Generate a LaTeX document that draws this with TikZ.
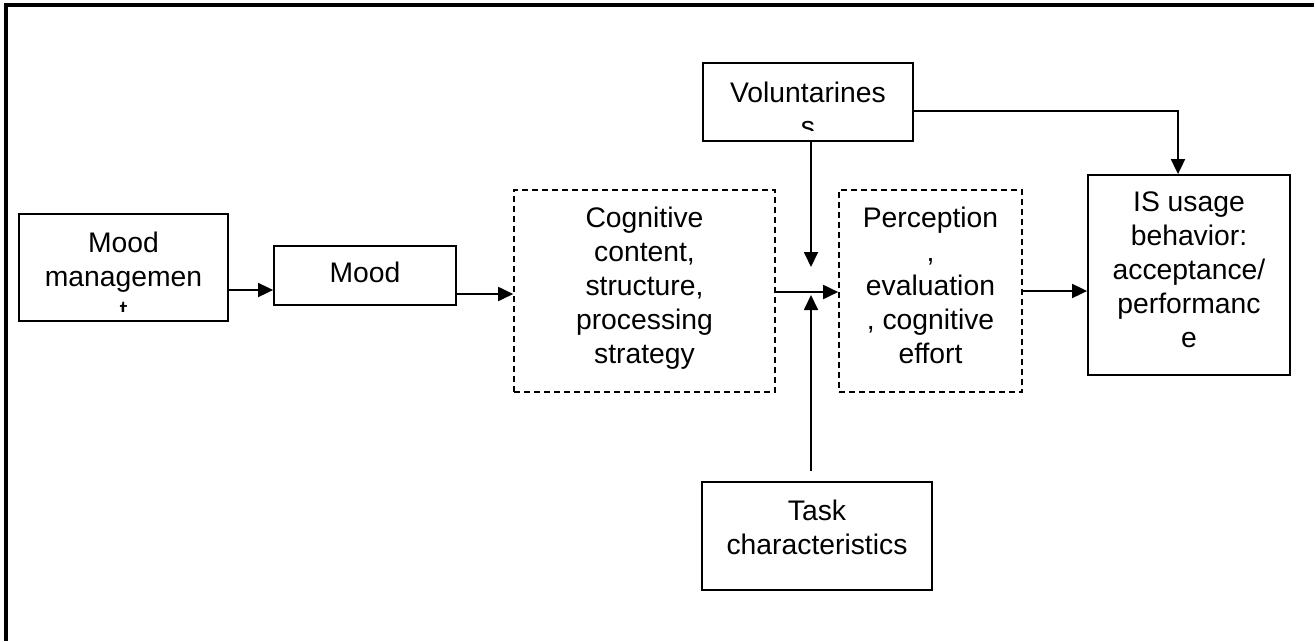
\documentclass[tikz,border=0pt]{standalone}
\usepackage{fontspec}
\setmainfont{Liberation Sans}
\usetikzlibrary{arrows.meta,calc}
\tikzset{
  box/.style={draw, line width=1.8pt, rectangle, inner sep=0pt},
  dbox/.style={box, line width=1.6pt, dash pattern=on 6pt off 4pt},
  txt/.style={anchor=north, align=center, inner sep=0pt, font=\fontsize{28.3}{34}\selectfont},
  arr/.style={line width=1.8pt, -{Triangle[length=15pt,width=14pt]}},
  frame/.style={line width=3.5pt}
}
\begin{document}
\begin{tikzpicture}[x=1pt,y=-1pt]
\useasboundingbox (0,0) rectangle (1315,641);
% frame (top and left only)
\coordinate (fr-a) at (1314,5);
\coordinate (fr-b) at (6,5);
\coordinate (fr-c) at (6,641);
\draw[frame] (fr-a) -- (fr-b) -- (fr-c);

% boxes
\node[box, minimum width=209pt, minimum height=107pt] (mm) at (123.5,267.5) {};
\node[box, minimum width=182pt, minimum height=59pt] (mood) at (365,275.5) {};
\node[dbox, minimum width=261pt, minimum height=202pt] (cog) at (644.5,291) {};
\node[dbox, minimum width=183pt, minimum height=202pt] (perc) at (930.5,291) {};
\node[box, minimum width=202pt, minimum height=200pt] (is) at (1189,275) {};
\node[box, minimum width=210pt, minimum height=78pt] (vol) at (808,102) {};
\node[box, minimum width=230pt, minimum height=108pt] (task) at (817,536) {};

% texts
\begin{scope}
\clip (mm.north west) rectangle ($(mm.south east)+(0,-10)$);
\node[txt] (mm-t) at ($(mm.north)+(0,15.2)$) {\strut Mood\\managemen\\t};
\end{scope}
\node[txt] (mood-t) at ($(mood.north)+(0,13.2)$) {\strut Mood};
\node[txt] (cog-t) at ($(cog.north)+(0,14.2)$) {\strut Cognitive\\content,\\structure,\\processing\\strategy};
\node[txt] (perc-t) at ($(perc.north)+(0,14.2)$) {\strut Perception\\,\\evaluation\\, cognitive\\effort};
\node[txt] (is-t) at ($(is.north)+(0,13.2)$) {\strut IS usage\\behavior:\\acceptance/\\performanc\\e};
\begin{scope}
\clip (vol.north west) rectangle ($(vol.south east)+(0,-11)$);
\node[txt] (vol-t) at ($(vol.north)+(0,16.2)$) {\strut Voluntarines\\s};
\end{scope}
\node[txt] (task-t) at ($(task.north)+(0,15.2)$) {\strut Task\\characteristics};

% connectors
\coordinate (r1) at (0,290);
\coordinate (r2) at (0,294);
\coordinate (r3) at (0,292);
\coordinate (r4) at (0,291);
\coordinate (r5) at (0,111);
\coordinate (jtop) at (811,267);
\coordinate (jbot) at (811,295);
\coordinate (tend) at (811,471);
\coordinate (vturn) at (1178,111);

\draw[arr] (mm.east |- r1) -- (mood.west |- r1);
\draw[arr] (mood.east |- r2) -- (cog.west |- r2);
\draw[arr] (cog.east |- r3) -- (perc.west |- r3);
\draw[arr] (perc.east |- r4) -- (is.west |- r4);
\draw[arr] (vol.south -| jtop) -- (jtop);
\draw[arr] (tend) -- (jbot);
\draw[arr] (vol.east |- r5) -- (vturn) -- (is.north -| vturn);
\end{tikzpicture}
\end{document}
